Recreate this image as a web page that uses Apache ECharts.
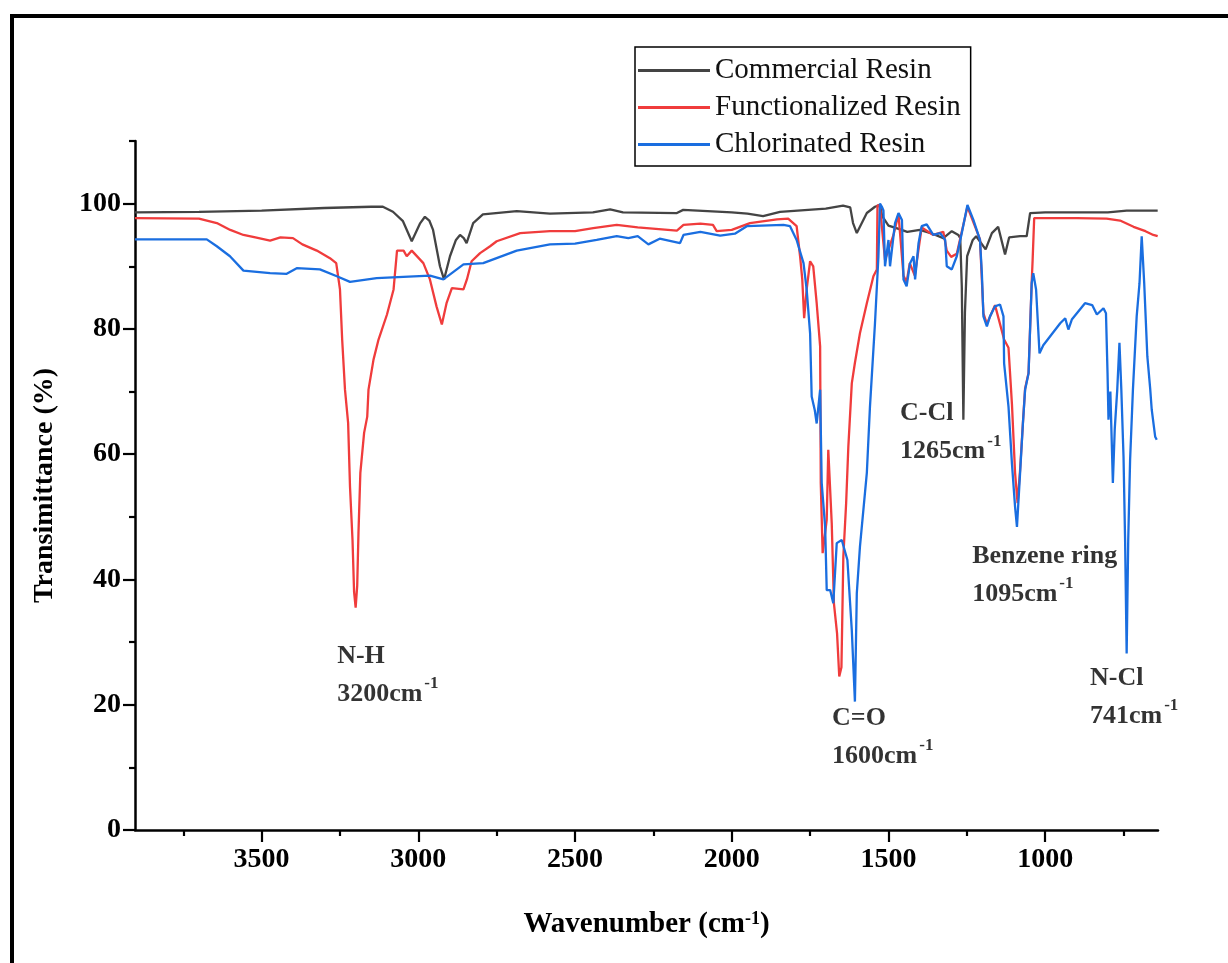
<!DOCTYPE html>
<html><head><meta charset="utf-8">
<script src="https://cdn.jsdelivr.net/npm/echarts@6/dist/echarts.min.js"></script>
<style>html,body{margin:0;padding:0;background:#fff}#c{width:1228px;height:963px}</style>
</head><body><div id="c"></div>
<script>
// ---- data ----
const seriesNames = ['Commercial Resin', 'Functionalized Resin', 'Chlorinated Resin'];

const commercialWn = [3904,3700,3500,3300,3150,3113,3081,3049,3021,2995,2979,2965,2953,2931,2918,2899,2880,2867,2855,2846,2825,2794,2686,2580,2443,2388,2347,2175,2155,2000,1950,1900,1846,1700,1645,1622,1613,1601,1585,1569,1543,1527,1520,1500,1470,1440,1400,1360,1325,1298,1277,1271,1266,1261,1256,1249,1231,1220,1190,1170,1150,1128,1115,1080,1059,1048,1000,900,800,740,641];
const commercialT  = [98.6,98.7,98.9,99.3,99.5,99.5,98.7,97.2,94.0,96.8,97.9,97.3,95.8,90.0,87.9,91.6,94.2,95.0,94.5,93.7,96.9,98.3,98.8,98.4,98.6,99.1,98.6,98.5,99.0,98.6,98.4,98.0,98.7,99.2,99.7,99.4,96.9,95.3,96.9,98.5,99.5,99.8,98.0,96.5,96.0,95.5,95.8,95.2,94.5,95.6,95.0,94.5,86.8,65.5,82.6,91.6,94.2,94.8,92.7,95.3,96.3,91.9,94.6,94.8,94.8,98.5,98.6,98.6,98.6,98.9,98.9];

const functionalWn = [3904,3700,3643,3600,3558,3520,3473,3440,3400,3370,3324,3282,3262,3250,3243,3234,3224,3218,3210,3205,3200,3195,3191,3185,3173,3163,3159,3143,3127,3100,3079,3068,3047,3037,3021,2984,2963,2942,2925,2910,2893,2856,2845,2830,2803,2771,2750,2675,2580,2500,2442,2367,2300,2175,2154,2100,2060,2048,2000,1942,1856,1820,1793,1782,1775,1769,1761,1750,1740,1729,1718,1716,1710,1697,1692,1687,1681,1674,1664,1657,1650,1644,1635,1628,1617,1607,1591,1569,1548,1537,1535,1527,1511,1484,1468,1452,1442,1432,1416,1394,1357,1325,1314,1300,1282,1248,1208,1197,1186,1160,1131,1117,1106,1096,1088,1080,1071,1064,1053,1043,1040,1035,1000,900,804,761,718,680,655,641];
const functionalT  = [97.7,97.6,96.9,95.8,95.0,94.6,94.1,94.6,94.5,93.5,92.5,91.3,90.5,86.3,78.3,70.3,65.0,54.8,46.3,38.0,35.5,39.0,47.4,57.0,63.4,66.0,70.3,75.1,78.3,82.3,86.3,92.5,92.5,91.6,92.5,90.5,87.9,83.6,80.7,84.1,86.5,86.3,87.9,90.8,92.1,93.2,94.0,95.3,95.6,95.6,96.1,96.6,96.2,95.7,96.6,96.8,96.6,95.6,95.8,96.9,97.5,97.6,96.4,91.6,87.9,81.7,86.3,90.8,90.0,84.1,77.2,55.4,44.2,49.5,60.7,60.7,49.0,36.2,31.4,24.5,26.0,43.6,52.2,61.2,71.3,74.6,79.3,84.1,88.4,89.5,99.8,99.5,91.0,95.0,98.3,88.5,87.5,90.5,88.5,96.2,95.0,95.5,92.5,91.5,92.0,99.5,94.3,82.5,80.8,83.8,78.3,77.0,68.0,57.0,52.2,57.5,65.0,70.5,73.0,87.5,91.0,97.7,97.7,97.7,97.6,97.3,96.3,95.6,95.0,94.8];

const chlorinatedWn = [3904,3675,3643,3601,3558,3473,3420,3388,3314,3260,3218,3133,2963,2920,2856,2793,2686,2580,2500,2431,2367,2330,2300,2266,2230,2165,2154,2100,2037,1990,1952,1835,1814,1793,1771,1761,1750,1745,1735,1729,1718,1713,1702,1697,1686,1676,1665,1649,1631,1617,1607,1601,1591,1569,1559,1543,1532,1527,1521,1516,1511,1500,1495,1484,1479,1468,1457,1452,1442,1431,1420,1415,1404,1394,1378,1357,1335,1319,1314,1298,1282,1266,1248,1229,1208,1202,1197,1186,1176,1160,1144,1133,1131,1117,1106,1096,1090,1080,1071,1064,1053,1043,1038,1029,1018,1006,952,936,926,915,873,850,835,814,806,801,798,792,784,778,770,763,757,750,745,740,735,729,720,708,699,692,684,674,665,660,649,644];
const chlorinatedT  = [94.3,94.3,93.2,91.6,89.3,88.9,88.8,89.7,89.5,88.4,87.5,88.1,88.5,87.9,90.3,90.5,92.5,93.5,93.6,94.2,94.8,94.5,94.8,93.5,94.4,93.7,95.0,95.5,94.9,95.2,96.4,96.6,96.4,94.2,90.5,86.3,79.3,69.2,67.0,64.9,70.3,55.4,48.4,38.3,38.3,36.2,45.8,46.3,43.1,31.9,20.5,37.8,45.2,57.0,67.6,80.9,91.6,100.0,99.5,98.9,90.0,94.2,90.0,94.8,96.9,98.5,97.4,87.9,86.8,90.5,91.6,87.9,93.7,96.4,96.7,95.0,95.3,94.2,90.0,89.5,91.6,95.3,99.8,97.4,94.2,88.9,82.0,80.4,82.0,83.6,83.9,82.0,74.5,67.6,58.5,51.6,48.4,57.0,64.9,70.3,72.9,87.3,88.9,86.3,76.1,77.4,80.9,81.7,79.9,81.5,84.1,83.8,82.3,83.3,82.5,72.9,65.5,70.0,55.4,64.0,70.3,77.8,70.3,59.6,46.3,28.2,46.3,59.1,70.3,82.0,87.3,94.8,87.3,75.6,70.5,67.1,62.8,62.3];

const xMajorTicks = [3500,3000,2500,2000,1500,1000];
const xMinorTicks = [3750,3250,2750,2250,1750,1250,750];
const yMajorTicks = [0,20,40,60,80,100];
const yMinorTicks = [10,30,50,70,90,110];

const annoLabel = ['N-H','C=O','C-Cl','Benzene ring','N-Cl'];
const annoWave  = ['3200','1600','1265','1095','741'];
const annoWn    = [3259,1680,1463,1233,857];
const annoT     = [30.8,20.9,69.5,46.8,27.3];

// ---- chart ----
const zip = (a, b) => a.map((v, i) => [v, b[i]]);
const serif = 'Liberation Serif, Times New Roman, serif';
const colors = ['#444444', '#f03c3c', '#1a6ee0'];

const chart = echarts.init(document.getElementById('c'), null, {renderer: 'canvas'});

const lineSeries = [commercialT, functionalT, chlorinatedT].map((t, i) => ({
  name: seriesNames[i],
  type: 'line',
  xAxisIndex: 0, yAxisIndex: 0,
  data: zip([commercialWn, functionalWn, chlorinatedWn][i], t),
  symbol: 'none',
  showSymbol: false,
  smooth: false,
  animation: false,
  z: 2 + i,
  lineStyle: {color: colors[i], width: 2.3},
  itemStyle: {color: colors[i]}
}));

const annoSeries = {
  type: 'scatter',
  xAxisIndex: 0, yAxisIndex: 0,
  symbolSize: 0,
  silent: true,
  animation: false,
  z: 10,
  data: annoWn.map((w, i) => ({value: [w, annoT[i]], name: annoLabel[i]})),
  label: {
    show: true,
    position: [0, 0],
    align: 'left',
    verticalAlign: 'top',
    color: '#000',
    formatter: p => '{t|' + annoLabel[p.dataIndex] + '}\n{t|' + annoWave[p.dataIndex] + 'cm}{s|-1}',
    rich: {
      t: {fontFamily: serif, fontWeight: 'bold', fontSize: 26, lineHeight: 38, color: '#000'},
      s: {fontFamily: serif, fontWeight: 'bold', fontSize: 17, lineHeight: 38, verticalAlign: 'top', color: '#000', padding: [0, 0, 0, 2]}
    }
  }
};

const axisLineStyle = {color: '#000', width: 2.5};
const plain = v => String(v);

chart.setOption({
  backgroundColor: '#fff',
  animation: false,
  grid: {left: 135, right: 70, top: 141, bottom: 133, containLabel: false},
  legend: {
    data: seriesNames,
    orient: 'vertical',
    left: 635,
    top: 47,
    icon: 'rect',
    itemWidth: 72,
    itemHeight: 3,
    itemGap: 6,
    padding: [8, 10, 6, 3],
    borderColor: '#000',
    borderWidth: 1.5,
    textStyle: {fontFamily: serif, fontSize: 29, color: '#111', lineHeight: 31}
  },
  xAxis: [{
    type: 'value', inverse: true, min: 640, max: 3904, position: 'bottom',
    splitLine: {show: false},
    axisLine: {show: true, onZero: false, lineStyle: axisLineStyle},
    axisTick: {show: true, length: 12, lineStyle: {color: '#000', width: 2.2}, customValues: xMajorTicks},
    axisLabel: {show: true, margin: 16, fontFamily: serif, fontWeight: 'bold', fontSize: 28, color: '#000', customValues: xMajorTicks, formatter: plain},
    name: 'Wavenumber (cm{s|-1})',
    nameLocation: 'middle',
    nameGap: 80,
    nameTextStyle: {fontFamily: serif, fontWeight: 'bold', fontSize: 29, color: '#000',
      rich: {s: {fontFamily: serif, fontWeight: 'bold', fontSize: 18, verticalAlign: 'top', color: '#000'}}}
  }, {
    type: 'value', inverse: true, min: 640, max: 3904, position: 'bottom',
    splitLine: {show: false},
    axisLine: {show: false, onZero: false},
    axisTick: {show: true, length: 6, lineStyle: {color: '#000', width: 2.2}, customValues: xMinorTicks},
    axisLabel: {show: false}
  }],
  yAxis: [{
    type: 'value', min: 0, max: 110, position: 'left',
    splitLine: {show: false},
    axisLine: {show: true, onZero: false, lineStyle: axisLineStyle},
    axisTick: {show: true, length: 12, lineStyle: {color: '#000', width: 2.2}, customValues: yMajorTicks},
    axisLabel: {show: true, margin: 14, fontFamily: serif, fontWeight: 'bold', fontSize: 28, color: '#000', customValues: yMajorTicks, formatter: plain},
    name: 'Transimittance (%)',
    nameLocation: 'middle',
    nameGap: 76,
    nameTextStyle: {fontFamily: serif, fontWeight: 'bold', fontSize: 28, color: '#000'}
  }, {
    type: 'value', min: 0, max: 110, position: 'left',
    splitLine: {show: false},
    axisLine: {show: false, onZero: false},
    axisTick: {show: true, length: 6, lineStyle: {color: '#000', width: 2.2}, customValues: yMinorTicks},
    axisLabel: {show: false}
  }],
  graphic: [{
    type: 'rect', silent: true, z: 100,
    shape: {x: 12, y: 16, width: 1300, height: 1100},
    style: {fill: null, stroke: '#000', lineWidth: 4}
  }],
  series: lineSeries.concat([annoSeries])
});
</script>
</body></html>
